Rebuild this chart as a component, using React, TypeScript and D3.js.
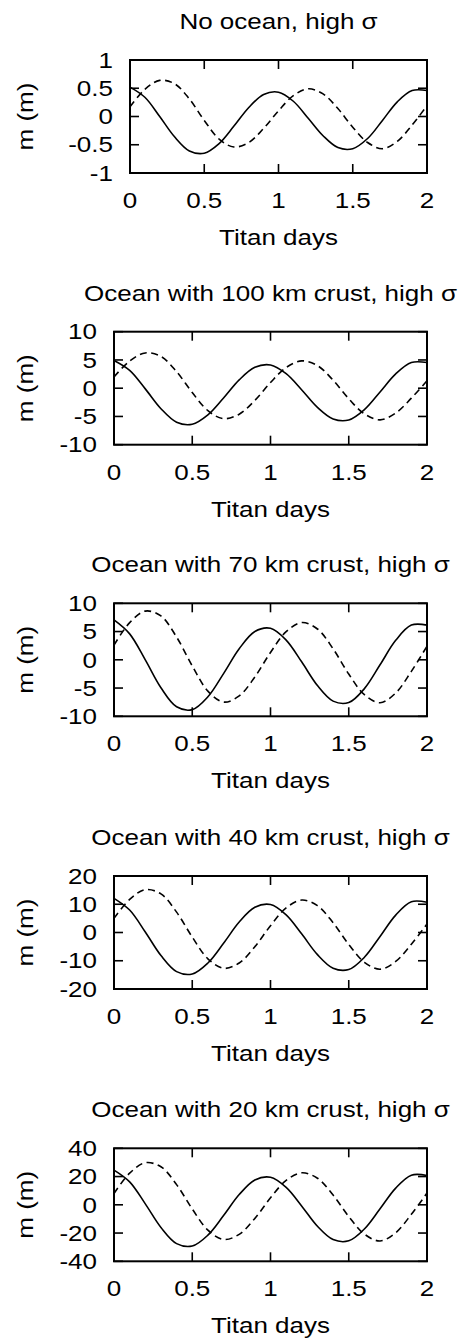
import React from 'react';
import * as d3 from 'd3';

const days = [0, 0.1, 0.2, 0.3, 0.4, 0.5, 0.6, 0.7, 0.8, 0.9, 1.0, 1.1, 1.2, 1.3, 1.4, 1.5, 1.6, 1.7, 1.8, 1.9, 2.0];

const titles = [
  'No ocean, high \u03c3',
  'Ocean with 100 km crust, high \u03c3',
  'Ocean with 70 km crust, high \u03c3',
  'Ocean with 40 km crust, high \u03c3',
  'Ocean with 20 km crust, high \u03c3',
];

const xTicks = [0, 0.5, 1, 1.5, 2];
const xTickLabels = ['0', '0.5', '1', '1.5', '2'];

const yTicks1 = [-1, -0.5, 0, 0.5, 1];
const yTickLabels1 = ['-1', '-0.5', '0', '0.5', '1'];
const yTicks2 = [-10, -5, 0, 5, 10];
const yTickLabels2 = ['-10', '-5', '0', '5', '10'];
const yTicks3 = [-10, -5, 0, 5, 10];
const yTickLabels3 = ['-10', '-5', '0', '5', '10'];
const yTicks4 = [-20, -10, 0, 10, 20];
const yTickLabels4 = ['-20', '-10', '0', '10', '20'];
const yTicks5 = [-40, -20, 0, 20, 40];
const yTickLabels5 = ['-40', '-20', '0', '20', '40'];

const solid1 = [0.52, 0.34, 0.0, -0.36, -0.61, -0.65, -0.48, -0.17, 0.16, 0.39, 0.43, 0.27, -0.03, -0.34, -0.55, -0.57, -0.39, -0.07, 0.26, 0.46, 0.46];
const dashed1 = [0.17, 0.48, 0.64, 0.58, 0.31, -0.07, -0.4, -0.54, -0.46, -0.21, 0.1, 0.37, 0.49, 0.4, 0.14, -0.19, -0.46, -0.57, -0.44, -0.15, 0.19];

const solid2 = [4.9, 3.15, -0.12, -3.63, -6.02, -6.37, -4.71, -1.73, 1.47, 3.7, 4.11, 2.56, -0.32, -3.4, -5.44, -5.63, -3.8, -0.67, 2.53, 4.54, 4.54];
const dashed2 = [2.0, 4.8, 6.24, 5.62, 2.92, -0.77, -3.98, -5.4, -4.6, -2.16, 1.0, 3.67, 4.84, 4.0, 1.42, -1.86, -4.55, -5.6, -4.41, -1.76, 1.31];

const solid3 = [7.05, 4.59, -0.01, -4.95, -8.32, -8.82, -6.55, -2.44, 1.95, 5.01, 5.58, 3.49, -0.4, -4.56, -7.31, -7.57, -5.1, -0.88, 3.44, 6.14, 6.14];
const dashed3 = [2.6, 6.57, 8.62, 7.76, 4.02, -1.08, -5.54, -7.48, -6.4, -3.04, 1.3, 4.98, 6.59, 5.45, 1.94, -2.52, -6.18, -7.6, -5.88, -2.04, 2.41];

const solid4 = [12.1, 7.95, 0.18, -8.16, -13.85, -14.7, -10.81, -3.81, 3.7, 8.92, 9.89, 6.23, -0.57, -7.84, -12.65, -13.1, -8.77, -1.4, 6.15, 10.88, 10.7];
const dashed4 = [5.0, 11.71, 15.16, 13.68, 7.21, -1.61, -9.31, -12.67, -10.81, -5.05, 2.4, 8.72, 11.48, 9.52, 3.46, -4.23, -10.55, -13.0, -10.25, -4.12, 2.98];

const solid5 = [24.6, 16.26, 0.67, -16.07, -27.49, -29.2, -21.5, -7.63, 7.23, 17.56, 19.48, 12.32, -0.98, -15.21, -24.64, -25.52, -17.13, -2.83, 11.82, 20.99, 20.8];
const dashed5 = [8.0, 22.4, 29.8, 26.93, 14.29, -2.94, -17.98, -24.55, -20.91, -9.65, 4.92, 17.26, 22.65, 18.79, 6.86, -8.31, -20.77, -25.6, -19.76, -6.76, 8.31];

const panels = [
  { title: titles[0], yTicks: yTicks1, yLabels: yTickLabels1, solid: solid1, dashed: dashed1 },
  { title: titles[1], yTicks: yTicks2, yLabels: yTickLabels2, solid: solid2, dashed: dashed2 },
  { title: titles[2], yTicks: yTicks3, yLabels: yTickLabels3, solid: solid3, dashed: dashed3 },
  { title: titles[3], yTicks: yTicks4, yLabels: yTickLabels4, solid: solid4, dashed: dashed4 },
  { title: titles[4], yTicks: yTicks5, yLabels: yTickLabels5, solid: solid5, dashed: dashed5 },
];

const FONT = '"Liberation Sans", Arial, Helvetica, sans-serif';
const FS = 21.5;
const SX = 1.21;
const TICK = 9;

function Panel({ p, top, left }: { p: any; top: number; left: number }) {
  const right = 427;
  const bottom = top + 113;
  const x = d3.scaleLinear().domain([0, 2]).range([left, right]);
  const yExt = d3.extent(p.yTicks) as [number, number];
  const y = d3.scaleLinear().domain(yExt).range([bottom, top]);
  const line = d3
    .line<number>()
    .x((_d, j) => x(days[j]))
    .y((d) => y(d))
    .curve(d3.curveCatmullRom);
  const cx = (left + right) / 2;
  const cy = (top + bottom) / 2;
  return (
    <g>
      <path d={line(p.dashed) || ''} fill="none" stroke="#000" strokeWidth={1.6} strokeDasharray="7,4.5" />
      <path d={line(p.solid) || ''} fill="none" stroke="#000" strokeWidth={1.6} />
      <rect x={left} y={top} width={right - left} height={bottom - top} fill="none" stroke="#000" strokeWidth={2} />
      {xTicks.map((t) => (
        <g key={'xt' + t}>
          <line x1={x(t)} x2={x(t)} y1={bottom} y2={bottom - TICK} stroke="#000" strokeWidth={1.6} />
          <line x1={x(t)} x2={x(t)} y1={top} y2={top + TICK} stroke="#000" strokeWidth={1.6} />
        </g>
      ))}
      {p.yTicks.map((t: number) => (
        <g key={'yt' + t}>
          <line x1={left} x2={left + TICK} y1={y(t)} y2={y(t)} stroke="#000" strokeWidth={1.6} />
          <line x1={right} x2={right - TICK} y1={y(t)} y2={y(t)} stroke="#000" strokeWidth={1.6} />
        </g>
      ))}
      {xTicks.map((t, k) => (
        <text key={'xl' + t} transform={`translate(${x(t)},${bottom + 35}) scale(${SX},1)`} textAnchor="middle">
          {xTickLabels[k]}
        </text>
      ))}
      {p.yTicks.map((t: number, k: number) => (
        <text key={'yl' + t} transform={`translate(${left - 17},${y(t)}) scale(${SX},1)`} textAnchor="end" dy="0.36em">
          {p.yLabels[k]}
        </text>
      ))}
      <text transform={`translate(${cx},${top - 31}) scale(${SX},1)`} textAnchor="middle">
        {p.title}
      </text>
      <text transform={`translate(${cx},${bottom + 72}) scale(${SX},1)`} textAnchor="middle">
        Titan days
      </text>
      <text transform={`translate(33,${cy}) rotate(-90) scale(${SX},1)`} textAnchor="middle">
        m (m)
      </text>
    </g>
  );
}

export default function App() {
  const tops = [60, 331.7, 603.3, 876, 1148.3];
  const lefts = [130, 114, 114, 114, 114];
  return (
    <svg
      width={461}
      height={1340}
      style={{ position: 'absolute', left: 0, top: 0, background: '#fff' }}
      fontFamily={FONT}
      fontSize={FS}
      fill="#000"
    >
      <rect x={0} y={0} width={461} height={1340} fill="#fff" />
      {panels.map((p, i) => (
        <Panel key={i} p={p} top={tops[i]} left={lefts[i]} />
      ))}
    </svg>
  );
}
